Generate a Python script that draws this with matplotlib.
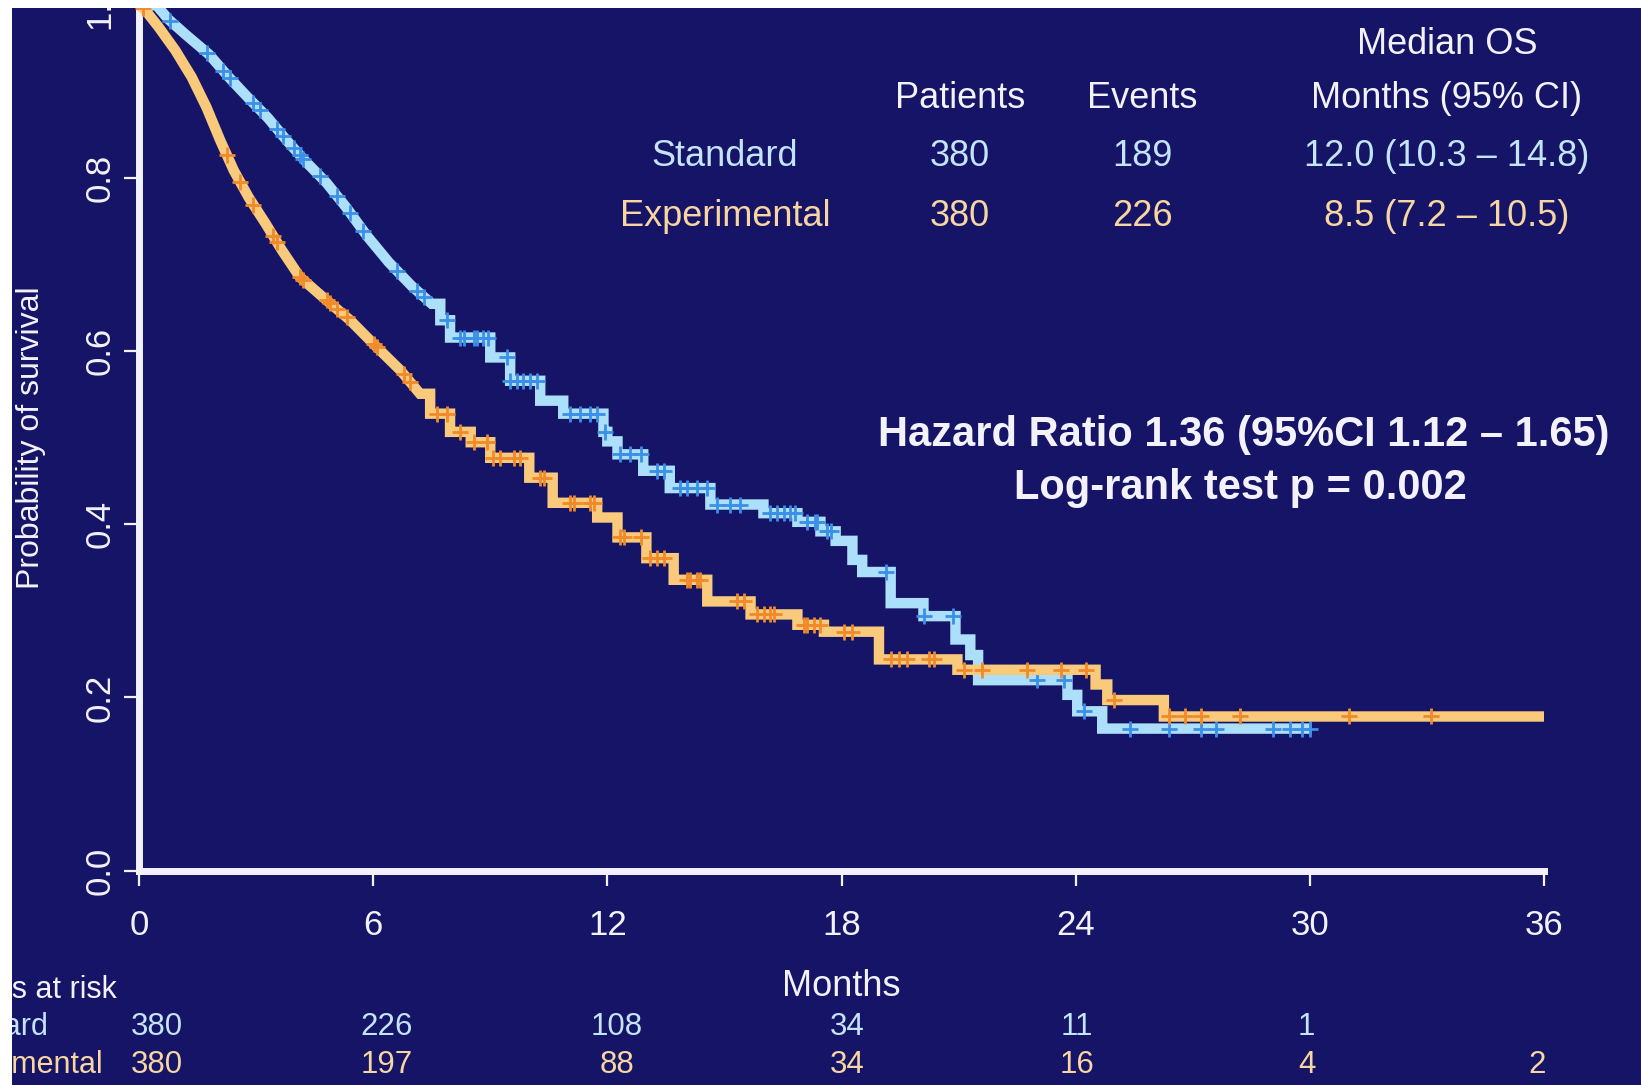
import numpy as np
import matplotlib
matplotlib.use("Agg")
import matplotlib.pyplot as plt
from matplotlib import transforms
from matplotlib.patches import Rectangle

# ---------------------------------------------------------------- data
months_ticks = [0, 6, 12, 18, 24, 30, 36]
surv_ticks = [0.0, 0.2, 0.4, 0.6, 0.8, 1.0]
surv_tick_labels = ["0.0", "0.2", "0.4", "0.6", "0.8", "1.0"]

# Standard arm: dense early part traced as points on the curve,
# then the larger individual drops (time, survival after the drop)
std_early_t = [0.0, 0.45, 0.75, 1.2, 1.8, 2.3, 2.8, 3.3, 3.8, 4.3, 4.8, 5.3, 5.85, 6.4, 7.0, 7.5]
std_early_s = [1.0, 1.0, 0.984, 0.966, 0.943, 0.917, 0.893, 0.870, 0.843, 0.818, 0.795, 0.767, 0.733, 0.703, 0.675, 0.655]
std_step_t = [7.72, 7.97, 9.0, 9.51, 10.28, 10.87, 11.9, 12.0, 12.26, 12.92, 13.6, 14.64, 16.0, 16.87,
              17.46, 17.85, 18.28, 18.53, 19.26, 20.1, 20.92, 21.3, 21.5, 23.79, 24.04, 24.68]
std_step_s = [0.636, 0.616, 0.593, 0.566, 0.543, 0.528, 0.507, 0.496, 0.481, 0.462, 0.442, 0.423, 0.413, 0.403,
              0.392, 0.381, 0.359, 0.345, 0.309, 0.294, 0.267, 0.249, 0.220, 0.203, 0.184, 0.164]
std_last_t = 30.05
std_censor = [0.79, 1.74, 2.16, 2.33, 2.93, 3.10, 3.53, 3.70, 3.96, 4.13, 4.21, 4.64, 5.07, 5.41, 5.75,
              6.61, 7.12, 7.29, 7.9, 8.23, 8.32, 8.58, 8.65, 8.82, 8.95, 9.43, 9.51, 9.68, 9.85, 10.03,
              10.2, 11.05, 11.31, 11.56, 11.74, 11.95, 12.33, 12.59, 12.85, 13.27, 13.44, 13.87, 14.04,
              14.3, 14.56, 14.81, 15.15, 15.41, 16.18, 16.35, 16.52, 16.69, 16.8, 17.12, 17.33, 17.38,
              17.63, 17.72, 19.13, 20.11, 20.85, 23.02, 23.7, 24.21, 25.4, 26.4, 27.2, 27.6, 29.05,
              29.5, 29.8, 30.0]

# Experimental arm
exp_early_t = [0.0, 0.15, 0.5, 0.93, 1.35, 1.73, 2.08, 2.43, 2.81, 3.24, 3.66, 4.12, 4.73, 5.41, 6.09, 6.7, 7.2]
exp_early_s = [1.0, 0.995, 0.975, 0.948, 0.917, 0.882, 0.844, 0.809, 0.778, 0.748, 0.717, 0.686, 0.662, 0.636, 0.605, 0.578, 0.551]
exp_step_t = [7.46, 7.97, 8.5, 9.0, 10.0, 10.6, 11.74, 12.26, 13.0, 13.7, 14.56, 15.67, 16.87, 17.55,
              18.96, 20.97, 24.51, 24.81, 26.26]
exp_step_s = [0.528, 0.507, 0.495, 0.477, 0.454, 0.425, 0.408, 0.385, 0.361, 0.336, 0.311, 0.296, 0.284, 0.276,
              0.244, 0.232, 0.215, 0.197, 0.178]
exp_last_t = 36.0
exp_censor = [0.11, 2.25, 2.59, 2.93, 3.44, 3.53, 4.13, 4.21, 4.81, 4.9, 5.07, 5.32, 6.01, 6.09, 6.78,
              6.95, 7.63, 7.9, 8.23, 8.58, 8.92, 9.08, 9.26, 9.6, 9.77, 10.28, 10.37, 11.05, 11.14,
              11.56, 11.65, 12.33, 12.42, 12.85, 13.1, 13.27, 13.44, 14.04, 14.13, 14.3, 14.38, 15.32,
              15.49, 15.84, 16.01, 16.18, 16.26, 17.03, 17.12, 17.29, 17.46, 18.06, 18.27, 19.26, 19.47,
              19.68, 20.24, 20.37, 21.14, 21.61, 22.76, 23.62, 24.26, 24.98, 26.4, 26.8, 27.2, 28.2,
              31.0, 33.1]

arms = ["Standard", "Experimental"]
patients = [380, 380]
events = [189, 226]
median_os = ["12.0 (10.3 \u2013 14.8)", "8.5 (7.2 \u2013 10.5)"]

risk_times = [0, 6, 12, 18, 24, 30, 36]
std_at_risk = [380, 226, 108, 34, 11, 1, None]
exp_at_risk = [380, 197, 88, 34, 16, 4, 2]

hr_text = "Hazard Ratio 1.36 (95%CI 1.12 \u2013 1.65)"
logrank_text = "Log-rank test p = 0.002"

# ---------------------------------------------------------------- style
BG = "#161466"
WHITE = "#f3f2fb"
STD_LINE, STD_MARK, STD_TEXT = "#ace0fa", "#3b8fe8", "#c4e4f9"
EXP_LINE, EXP_MARK, EXP_TEXT = "#f9c97c", "#f08a2a", "#f7d6a2"
plt.rcParams["font.family"] = ["Liberation Sans", "DejaVu Sans"]

W, H = 1641, 1085


def fx(px):
    return px / W


def fy(py):
    return 1 - py / H


def km_path(early_t, early_s, step_t, step_s, last_t):
    xs, ys = list(early_t), list(early_s)
    level = early_s[-1]
    for t, s in zip(step_t, step_s):
        xs += [t, t]
        ys += [level, s]
        level = s
    xs.append(last_t)
    ys.append(level)
    return np.array(xs), np.array(ys)


fig = plt.figure(figsize=(W / 100, H / 100), dpi=100)
fig.patch.set_facecolor(BG)
ax = fig.add_axes([fx(139), fy(870.5), fx(1544) - fx(139), fy(5.3) - fy(870.5)])
ax.set_facecolor(BG)
ax.set_xlim(0, 36)
ax.set_ylim(0, 1)

curves = [
    (std_early_t, std_early_s, std_step_t, std_step_s, std_last_t, std_censor, STD_LINE, STD_MARK),
    (exp_early_t, exp_early_s, exp_step_t, exp_step_s, exp_last_t, exp_censor, EXP_LINE, EXP_MARK),
]
for i, (et, es, st, ss, lt, cens, lc, mc) in enumerate(curves):
    xs, ys = km_path(et, es, st, ss, lt)
    ax.plot(xs, ys, color=lc, lw=7.5, solid_joinstyle="miter", solid_capstyle="butt",
            clip_on=False, zorder=3 + 2 * i)
    cens = np.array(cens)
    ax.plot(cens, np.interp(cens, xs, ys), ls="none", marker="+", ms=12, mew=2.0,
            color=mc, clip_on=False, zorder=4 + 2 * i)

# axes frame
for side in ("top", "right"):
    ax.spines[side].set_visible(False)
for side in ("left", "bottom"):
    ax.spines[side].set_linewidth(5)
    ax.spines[side].set_color(WHITE)
    ax.spines[side].set_capstyle("projecting")
ax.set_xticks(months_ticks)
ax.set_yticks(surv_ticks)
ax.set_yticklabels(surv_tick_labels, rotation=90, va="center")
ax.tick_params(axis="both", direction="out", length=11, width=1.6, color=WHITE,
               labelcolor=WHITE, labelsize=25)
ax.tick_params(axis="x", pad=17)
ax.tick_params(axis="y", pad=5)

ax.set_xlabel("Months", fontsize=26, color=WHITE, va="center")
ax.xaxis.set_label_coords(0.5, (870.5 - 986) / 865.2)
ax.set_ylabel("Probability of survival", fontsize=23, color=WHITE, va="center", ha="center")
ax.yaxis.set_label_coords((31 - 139) / 1405, 0.5)

# summary table
hdr = dict(fontsize=26, color=WHITE, ha="center", va="center")
fig.text(fx(1447), fy(45), "Median OS", **hdr)
fig.text(fx(1447), fy(98), "Months (95% CI)", **hdr)
fig.text(fx(960), fy(98), "Patients", **hdr)
fig.text(fx(1142), fy(98), "Events", **hdr)
for row_y, name, n, ev, med, col in zip([157, 216.5], arms, patients, events, median_os,
                                        [STD_TEXT, EXP_TEXT]):
    kw = dict(fontsize=26, color=col, ha="center", va="center")
    fig.text(fx(725), fy(row_y), name, **kw)
    fig.text(fx(960), fy(row_y), str(n), **kw)
    fig.text(fx(1142), fy(row_y), str(ev), **kw)
    fig.text(fx(1447), fy(row_y), med, **kw)

fig.text(fx(1244), fy(435), hr_text, fontsize=30, fontweight="bold", color=WHITE,
         ha="center", va="center")
fig.text(fx(1240), fy(488), logrank_text, fontsize=30, fontweight="bold", color=WHITE,
         ha="center", va="center")

# numbers at risk
risk_tf = transforms.blended_transform_factory(ax.transData, fig.transFigure)
fig.text(fx(117), fy(990), "Patients at risk", fontsize=22, color=WHITE, ha="right", va="center")
for row_y, name, counts, col in zip([1027, 1065], arms, [std_at_risk, exp_at_risk],
                                    [STD_TEXT, EXP_TEXT]):
    fig.text(fx(-75), fy(row_y), name, fontsize=22, color=col, ha="left", va="center")
    for t, c in zip(risk_times, counts):
        if c is None:
            continue
        ax.text(0.46 + 0.982 * t, fy(row_y), str(c), transform=risk_tf, fontsize=22.5,
                color=col, ha="center", va="center", clip_on=False)

# white margin along the top and left edges
fig.add_artist(Rectangle((0, fy(8)), 1, 1 - fy(8), transform=fig.transFigure,
                         facecolor="white", edgecolor="none", zorder=50))
fig.add_artist(Rectangle((0, 0), fx(12), 1, transform=fig.transFigure,
                         facecolor="white", edgecolor="none", zorder=50))

fig.savefig("out.png", dpi=100, facecolor=BG)
